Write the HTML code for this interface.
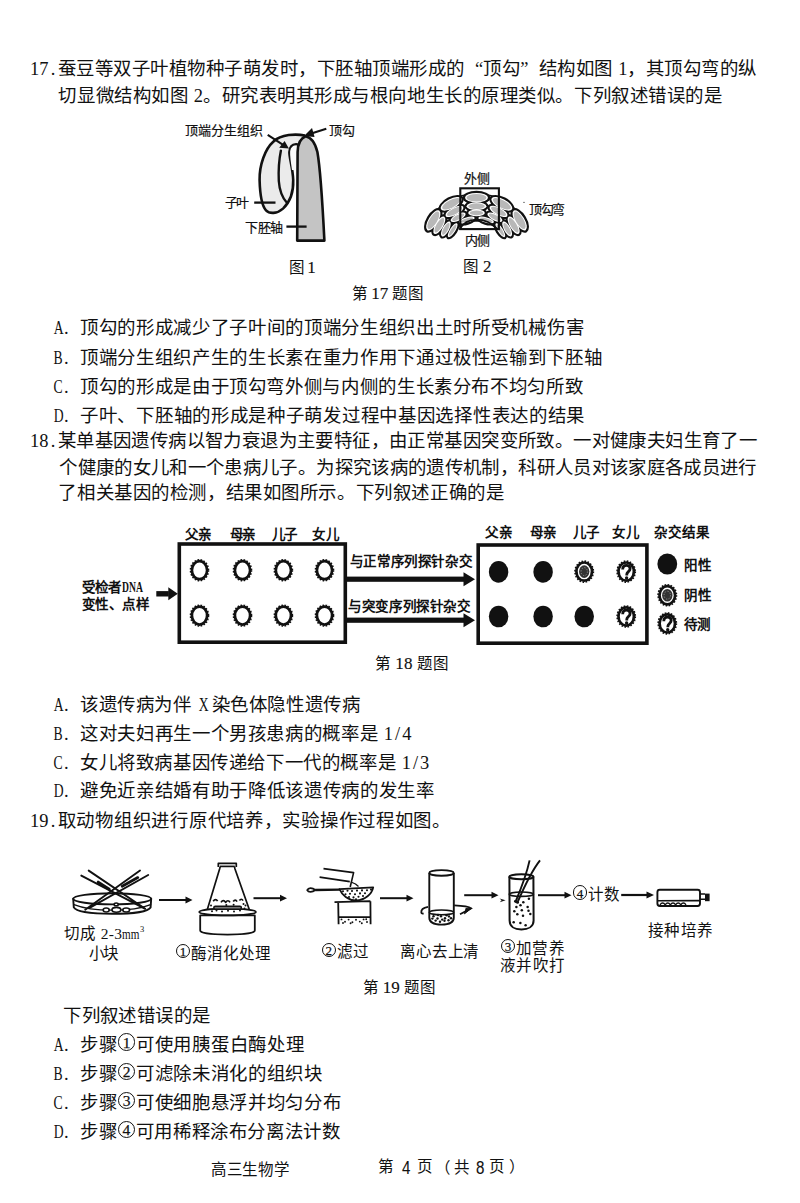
<!DOCTYPE html>
<html lang="zh-CN"><head><meta charset="utf-8"><title>高三生物学 第4页</title>
<style>
html,body{margin:0;padding:0;background:#fff;}
body{width:800px;height:1203px;position:relative;overflow:hidden;font-family:"Liberation Serif",serif;color:#111;}
.t{position:absolute;white-space:nowrap;font-size:18.45px;line-height:18.45px;}
s{text-decoration:none;display:inline-block;width:var(--p);letter-spacing:0}
.t i{font-style:normal;display:inline-block;width:0.5em;text-align:center;letter-spacing:0}
.t i.ts{width:0.3em}
.t i u{text-decoration:none;display:inline-block;transform:scaleX(0.74);}
.t b.ql,.t b.qr{font-weight:normal;display:inline-block;width:1em;letter-spacing:0}
.t b.ql{text-align:right}
.t b.qr{text-align:left}
.lb{position:absolute;white-space:nowrap;font-family:"Liberation Sans",sans-serif;font-weight:bold;line-height:1;}
.cap{position:absolute;white-space:nowrap;line-height:1;}
.cd{display:inline-block;box-sizing:border-box;width:0.94em;height:0.94em;margin:0 0.03em;border:1.7px solid #111;border-radius:50%;font-weight:normal;vertical-align:-0.13em;text-align:center;letter-spacing:0;position:relative;top:-0.141em}
.cd span{position:absolute;left:0;right:0;top:50%;font-size:0.84em;line-height:1;margin-top:-0.47em;font-family:"Liberation Serif",serif;-webkit-text-stroke:0.25px #111}
.dna{display:inline-block;width:20.8px;font-size:1.15em;line-height:1;transform:scaleX(0.62);transform-origin:0 0;letter-spacing:0;font-family:"Liberation Serif",serif;}
.dg{font-size:1.1em;-webkit-text-stroke:0.15px #111}
.mm{display:inline-block;width:17.6px;transform:scaleX(0.72);transform-origin:0 0;letter-spacing:0}
.hw{display:inline-block;width:0.5em;text-align:center;letter-spacing:0}
.lr{font-weight:normal;-webkit-text-stroke:0.2px #111;}
.sn{font-family:"Liberation Sans",sans-serif;-webkit-text-stroke:0.1px #111;transform:scaleX(0.84);transform-origin:0 0;}
sup{font-size:0.55em;vertical-align:0;position:relative;top:-0.75em;}
svg{position:absolute;left:0;top:0;}
</style></head><body>
<div class="t" style="left:30.12px;top:59.50px;--p:18.505px"><i>1</i><i>7</i><i>.</i><s>蚕</s><s>豆</s><s>等</s><s>双</s><s>子</s><s>叶</s><s>植</s><s>物</s><s>种</s><s>子</s><s>萌</s><s>发</s><s>时</s><s>，</s><s>下</s><s>胚</s><s>轴</s><s>顶</s><s>端</s><s>形</s><s>成</s><s>的</s><b class="ql">“</b><s>顶</s><s>勾</s><b class="qr">”</b><s>结</s><s>构</s><s>如</s><s>图</s><i class="ts"></i><i>1</i><s>，</s><s>其</s><s>顶</s><s>勾</s><s>弯</s><s>的</s><s>纵</s></div>
<div class="t" style="left:58.44px;top:87.26px;--p:18.561px"><s>切</s><s>显</s><s>微</s><s>结</s><s>构</s><s>如</s><s>图</s><i class="ts"></i><i>2</i><s>。</s><s>研</s><s>究</s><s>表</s><s>明</s><s>其</s><s>形</s><s>成</s><s>与</s><s>根</s><s>向</s><s>地</s><s>生</s><s>长</s><s>的</s><s>原</s><s>理</s><s>类</s><s>似</s><s>。</s><s>下</s><s>列</s><s>叙</s><s>述</s><s>错</s><s>误</s><s>的</s><s>是</s></div>
<div class="t" style="left:52.38px;top:319.48px;--p:18.678px"><i><u>A</u></i><i>.</i><i>&nbsp;</i><s>顶</s><s>勾</s><s>的</s><s>形</s><s>成</s><s>减</s><s>少</s><s>了</s><s>子</s><s>叶</s><s>间</s><s>的</s><s>顶</s><s>端</s><s>分</s><s>生</s><s>组</s><s>织</s><s>出</s><s>土</s><s>时</s><s>所</s><s>受</s><s>机</s><s>械</s><s>伤</s><s>害</s></div>
<div class="t" style="left:52.38px;top:349.26px;--p:18.669px"><i><u>B</u></i><i>.</i><i>&nbsp;</i><s>顶</s><s>端</s><s>分</s><s>生</s><s>组</s><s>织</s><s>产</s><s>生</s><s>的</s><s>生</s><s>长</s><s>素</s><s>在</s><s>重</s><s>力</s><s>作</s><s>用</s><s>下</s><s>通</s><s>过</s><s>极</s><s>性</s><s>运</s><s>输</s><s>到</s><s>下</s><s>胚</s><s>轴</s></div>
<div class="t" style="left:52.38px;top:377.74px;--p:18.648px"><i><u>C</u></i><i>.</i><i>&nbsp;</i><s>顶</s><s>勾</s><s>的</s><s>形</s><s>成</s><s>是</s><s>由</s><s>于</s><s>顶</s><s>勾</s><s>弯</s><s>外</s><s>侧</s><s>与</s><s>内</s><s>侧</s><s>的</s><s>生</s><s>长</s><s>素</s><s>分</s><s>布</s><s>不</s><s>均</s><s>匀</s><s>所</s><s>致</s></div>
<div class="t" style="left:52.38px;top:407.00px;--p:18.709px"><i><u>D</u></i><i>.</i><i>&nbsp;</i><s>子</s><s>叶</s><s>、</s><s>下</s><s>胚</s><s>轴</s><s>的</s><s>形</s><s>成</s><s>是</s><s>种</s><s>子</s><s>萌</s><s>发</s><s>过</s><s>程</s><s>中</s><s>基</s><s>因</s><s>选</s><s>择</s><s>性</s><s>表</s><s>达</s><s>的</s><s>结</s><s>果</s></div>
<div class="t" style="left:30.12px;top:431.98px;--p:18.411px"><i>1</i><i>8</i><i>.</i><s>某</s><s>单</s><s>基</s><s>因</s><s>遗</s><s>传</s><s>病</s><s>以</s><s>智</s><s>力</s><s>衰</s><s>退</s><s>为</s><s>主</s><s>要</s><s>特</s><s>征</s><s>，</s><s>由</s><s>正</s><s>常</s><s>基</s><s>因</s><s>突</s><s>变</s><s>所</s><s>致</s><s>。</s><s>一</s><s>对</s><s>健</s><s>康</s><s>夫</s><s>妇</s><s>生</s><s>育</s><s>了</s><s>一</s></div>
<div class="t" style="left:59.18px;top:458.50px;--p:18.364px"><s>个</s><s>健</s><s>康</s><s>的</s><s>女</s><s>儿</s><s>和</s><s>一</s><s>个</s><s>患</s><s>病</s><s>儿</s><s>子</s><s>。</s><s>为</s><s>探</s><s>究</s><s>该</s><s>病</s><s>的</s><s>遗</s><s>传</s><s>机</s><s>制</s><s>，</s><s>科</s><s>研</s><s>人</s><s>员</s><s>对</s><s>该</s><s>家</s><s>庭</s><s>各</s><s>成</s><s>员</s><s>进</s><s>行</s></div>
<div class="t" style="left:58.38px;top:484.01px;--p:18.580px"><s>了</s><s>相</s><s>关</s><s>基</s><s>因</s><s>的</s><s>检</s><s>测</s><s>，</s><s>结</s><s>果</s><s>如</s><s>图</s><s>所</s><s>示</s><s>。</s><s>下</s><s>列</s><s>叙</s><s>述</s><s>正</s><s>确</s><s>的</s><s>是</s></div>
<div class="t" style="left:52.38px;top:696.00px;--p:18.568px"><i><u>A</u></i><i>.</i><i>&nbsp;</i><s>该</s><s>遗</s><s>传</s><s>病</s><s>为</s><s>伴</s><i class="ts"></i><i><u>X</u></i><i class="ts"></i><s>染</s><s>色</s><s>体</s><s>隐</s><s>性</s><s>遗</s><s>传</s><s>病</s></div>
<div class="t" style="left:52.38px;top:725.26px;--p:18.655px"><i><u>B</u></i><i>.</i><i>&nbsp;</i><s>这</s><s>对</s><s>夫</s><s>妇</s><s>再</s><s>生</s><s>一</s><s>个</s><s>男</s><s>孩</s><s>患</s><s>病</s><s>的</s><s>概</s><s>率</s><s>是</s><i class="ts"></i><i>1</i><i>/</i><i>4</i></div>
<div class="t" style="left:52.38px;top:753.52px;--p:18.600px"><i><u>C</u></i><i>.</i><i>&nbsp;</i><s>女</s><s>儿</s><s>将</s><s>致</s><s>病</s><s>基</s><s>因</s><s>传</s><s>递</s><s>给</s><s>下</s><s>一</s><s>代</s><s>的</s><s>概</s><s>率</s><s>是</s><i class="ts"></i><i>1</i><i>/</i><i>3</i></div>
<div class="t" style="left:52.38px;top:781.98px;--p:18.660px"><i><u>D</u></i><i>.</i><i>&nbsp;</i><s>避</s><s>免</s><s>近</s><s>亲</s><s>结</s><s>婚</s><s>有</s><s>助</s><s>于</s><s>降</s><s>低</s><s>该</s><s>遗</s><s>传</s><s>病</s><s>的</s><s>发</s><s>生</s><s>率</s></div>
<div class="t" style="left:30.12px;top:811.51px;--p:18.724px"><i>1</i><i>9</i><i>.</i><s>取</s><s>动</s><s>物</s><s>组</s><s>织</s><s>进</s><s>行</s><s>原</s><s>代</s><s>培</s><s>养</s><s>，</s><s>实</s><s>验</s><s>操</s><s>作</s><s>过</s><s>程</s><s>如</s><s>图</s><s>。</s></div>
<div class="t" style="left:63.20px;top:1006.51px;--p:18.420px"><s>下</s><s>列</s><s>叙</s><s>述</s><s>错</s><s>误</s><s>的</s><s>是</s></div>
<div class="t" style="left:52.38px;top:1035.96px;--p:18.740px"><i><u>A</u></i><i>.</i><i>&nbsp;</i><s>步</s><s>骤</s><b class="cd"><span>1</span></b><s>可</s><s>使</s><s>用</s><s>胰</s><s>蛋</s><s>白</s><s>酶</s><s>处</s><s>理</s></div>
<div class="t" style="left:52.38px;top:1065.22px;--p:18.713px"><i><u>B</u></i><i>.</i><i>&nbsp;</i><s>步</s><s>骤</s><b class="cd"><span>2</span></b><s>可</s><s>滤</s><s>除</s><s>未</s><s>消</s><s>化</s><s>的</s><s>组</s><s>织</s><s>块</s></div>
<div class="t" style="left:52.38px;top:1094.22px;--p:18.691px"><i><u>C</u></i><i>.</i><i>&nbsp;</i><s>步</s><s>骤</s><b class="cd"><span>3</span></b><s>可</s><s>使</s><s>细</s><s>胞</s><s>悬</s><s>浮</s><s>并</s><s>均</s><s>匀</s><s>分</s><s>布</s></div>
<div class="t" style="left:52.38px;top:1123.48px;--p:18.629px"><i><u>D</u></i><i>.</i><i>&nbsp;</i><s>步</s><s>骤</s><b class="cd"><span>4</span></b><s>可</s><s>用</s><s>稀</s><s>释</s><s>涂</s><s>布</s><s>分</s><s>离</s><s>法</s><s>计</s><s>数</s></div>
<div class="cap" style="left:289.00px;top:258.96px;font-size:15.5px;letter-spacing:-0.800px;--p:15.200px"><s>图</s> <span class=dg>1</span></div>
<div class="cap" style="left:463.00px;top:257.96px;font-size:15.5px;letter-spacing:0.000px;--p:16.000px"><s>图</s> <span class=dg>2</span></div>
<div class="cap" style="left:351.50px;top:284.96px;font-size:15.5px;letter-spacing:-0.067px;--p:15.933px"><s>第</s> <span class=dg>17</span> <s>题</s><s>图</s></div>
<div class="cap" style="left:375.00px;top:654.71px;font-size:15.5px;letter-spacing:0.200px;--p:16.200px"><s>第</s> <span class=dg>18</span> <s>题</s><s>图</s></div>
<div class="cap" style="left:362.75px;top:978.96px;font-size:15.5px;letter-spacing:0.067px;--p:16.067px"><s>第</s> <span class=dg>19</span> <s>题</s><s>图</s></div>
<div class="cap" style="left:210.56px;top:1161.56px;font-size:15.5px;letter-spacing:-0.040px;--p:15.960px"><s>高</s><s>三</s><s>生</s><s>物</s><s>学</s></div>
<div class="cap" style="left:378.00px;top:1159.26px;font-size:15.5px;letter-spacing:0.000px;--p:16.000px"><s>第</s></div>
<div class="cap sn" style="left:402.24px;top:1158.82px;font-size:18px;letter-spacing:0.000px;--p:18.000px">4</div>
<div class="cap" style="left:417.08px;top:1159.26px;font-size:15.5px;letter-spacing:0.000px;--p:16.000px"><s>页</s></div>
<div class="cap" style="left:435.10px;top:1160.06px;font-size:15.5px;letter-spacing:3.200px;--p:19.200px"><s>（</s><s>共</s></div>
<div class="cap sn" style="left:475.58px;top:1158.82px;font-size:18px;letter-spacing:0.000px;--p:18.000px">8</div>
<div class="cap" style="left:489.08px;top:1159.26px;font-size:15.5px;letter-spacing:3.520px;--p:19.520px"><s>页</s><s>）</s></div>
<div class="lb lr" style="left:185.30px;top:123.64px;font-size:13px;letter-spacing:0.000px;--p:13.000px"><s>顶</s><s>端</s><s>分</s><s>生</s><s>组</s><s>织</s></div>
<div class="lb lr" style="left:328.55px;top:123.64px;font-size:13px;letter-spacing:0.000px;--p:13.000px"><s>顶</s><s>勾</s></div>
<div class="lb lr" style="left:225.30px;top:196.14px;font-size:13px;letter-spacing:-2.400px;--p:10.600px"><s>子</s><s>叶</s></div>
<div class="lb lr" style="left:245.00px;top:221.14px;font-size:13px;letter-spacing:-0.400px;--p:12.600px"><s>下</s><s>胚</s><s>轴</s></div>
<div class="lb lr" style="left:464.00px;top:171.64px;font-size:13px;letter-spacing:0.000px;--p:13.000px"><s>外</s><s>侧</s></div>
<div class="lb lr" style="left:465.00px;top:233.64px;font-size:13px;letter-spacing:-0.800px;--p:12.200px"><s>内</s><s>侧</s></div>
<div class="lb lr" style="left:528.80px;top:202.64px;font-size:13px;letter-spacing:-1.200px;--p:11.800px"><s>顶</s><s>勾</s><s>弯</s></div>
<div class="lb" style="left:184.80px;top:528.06px;font-size:13.5px;letter-spacing:-0.800px;--p:13.200px"><s>父</s><s>亲</s></div>
<div class="lb" style="left:229.80px;top:528.06px;font-size:13.5px;letter-spacing:-1.600px;--p:12.400px"><s>母</s><s>亲</s></div>
<div class="lb" style="left:271.80px;top:528.06px;font-size:13.5px;letter-spacing:-1.600px;--p:12.400px"><s>儿</s><s>子</s></div>
<div class="lb" style="left:311.50px;top:528.06px;font-size:13.5px;letter-spacing:0.480px;--p:14.480px"><s>女</s><s>儿</s></div>
<div class="lb" style="left:484.88px;top:525.68px;font-size:13.5px;letter-spacing:0.320px;--p:14.320px"><s>父</s><s>亲</s></div>
<div class="lb" style="left:529.80px;top:525.68px;font-size:13.5px;letter-spacing:-0.800px;--p:13.200px"><s>母</s><s>亲</s></div>
<div class="lb" style="left:572.52px;top:525.68px;font-size:13.5px;letter-spacing:-0.800px;--p:13.200px"><s>儿</s><s>子</s></div>
<div class="lb" style="left:612.00px;top:525.68px;font-size:13.5px;letter-spacing:0.000px;--p:14.000px"><s>女</s><s>儿</s></div>
<div class="lb" style="left:654.25px;top:525.68px;font-size:13.5px;letter-spacing:-0.160px;--p:13.840px"><s>杂</s><s>交</s><s>结</s><s>果</s></div>
<div class="lb" style="left:81.50px;top:578.68px;font-size:13.5px;letter-spacing:-0.640px;--p:13.360px"><s>受</s><s>检</s><s>者</s><span class=dna>DNA</span></div>
<div class="lb" style="left:81.50px;top:598.19px;font-size:13.5px;letter-spacing:-0.400px;--p:13.600px"><s>变</s><s>性</s><s>、</s><s>点</s><s>样</s></div>
<div class="lb" style="left:349.80px;top:554.94px;font-size:13.5px;letter-spacing:-0.400px;--p:13.600px"><s>与</s><s>正</s><s>常</s><s>序</s><s>列</s><s>探</s><s>针</s><s>杂</s><s>交</s></div>
<div class="lb" style="left:348.30px;top:599.94px;font-size:13.5px;letter-spacing:-0.400px;--p:13.600px"><s>与</s><s>突</s><s>变</s><s>序</s><s>列</s><s>探</s><s>针</s><s>杂</s><s>交</s></div>
<div class="lb" style="left:683.50px;top:558.66px;font-size:13.5px;letter-spacing:0.000px;--p:14.000px"><s>阳</s><s>性</s></div>
<div class="lb" style="left:683.50px;top:589.19px;font-size:13.5px;letter-spacing:0.000px;--p:14.000px"><s>阴</s><s>性</s></div>
<div class="lb" style="left:684.30px;top:618.44px;font-size:13.5px;letter-spacing:-0.800px;--p:13.200px"><s>待</s><s>测</s></div>
<div class="cap" style="left:64.24px;top:925.66px;font-size:15.5px;letter-spacing:0.251px;--p:16.251px"><s>切</s><s>成</s> 2-3<span class=mm>mm</span><sup>3</sup></div>
<div class="cap" style="left:89.00px;top:946.26px;font-size:15.5px;letter-spacing:-1.600px;--p:14.400px"><s>小</s><s>块</s></div>
<div class="cap" style="left:175.30px;top:945.56px;font-size:15.5px;letter-spacing:0.000px;--p:16.000px"><b class="cd"><span>1</span></b><s>酶</s><s>消</s><s>化</s><s>处</s><s>理</s></div>
<div class="cap" style="left:321.05px;top:944.31px;font-size:15.5px;letter-spacing:0.000px;--p:16.000px"><b class="cd"><span>2</span></b><s>滤</s><s>过</s></div>
<div class="cap" style="left:400.25px;top:943.51px;font-size:15.5px;letter-spacing:-0.200px;--p:15.800px"><s>离</s><s>心</s><s>去</s><s>上</s><s>清</s></div>
<div class="cap" style="left:500.30px;top:940.56px;font-size:15.5px;letter-spacing:0.533px;--p:16.533px"><b class="cd"><span>3</span></b><s>加</s><s>营</s><s>养</s></div>
<div class="cap" style="left:499.60px;top:957.96px;font-size:15.5px;letter-spacing:0.550px;--p:16.550px"><s>液</s><s>并</s><s>吹</s><s>打</s></div>
<div class="cap" style="left:572.30px;top:887.16px;font-size:15.5px;letter-spacing:0.600px;--p:16.600px"><b class="cd"><span>4</span></b><s>计</s><s>数</s></div>
<div class="cap" style="left:648.00px;top:922.56px;font-size:15.5px;letter-spacing:0.267px;--p:16.267px"><s>接</s><s>种</s><s>培</s><s>养</s></div>
<svg width="800" height="1203" viewBox="0 0 800 1203">
<path d="M305,135.6 C296,133.6 281,134.2 273.5,141.5 C265,149 259.3,165 259.6,180 C260,195 262,206 266,210.3 C269.5,214 277,214 283,208.6 C290,202 293.6,192 293.2,180 C292.8,168 289.2,158 289.4,152 C289.7,147 292.5,144.4 296,144.2 L298.5,144.8" fill="#ebebeb" stroke="#111" stroke-width="2.6" stroke-linejoin="round"/>
<path d="M297.8,146 C294,144.6 291,146.5 290.2,151 C289.8,156 291,163 292,170 L297,170 Z" fill="#fafafa"/>
<path d="M297.2,240.6 L297.6,152 C297.8,144 301,138 305.6,136.2 C311,137.2 315.2,143 317.4,152 C320.2,168 322.6,205 324.4,240.6 Z" fill="#c4c4c4" stroke="#111" stroke-width="2.6" stroke-linejoin="round"/>
<path d="M280.9,150.6 C279.2,159 278.3,170 278.8,181 C279.5,191 282.6,198 286.9,202.8" fill="none" stroke="#111" stroke-width="2.4" stroke-linecap="round"/>
<line x1="254.2" y1="202.6" x2="275.5" y2="202.6" stroke="#111" stroke-width="2.3"/>
<line x1="286.4" y1="226.6" x2="306.6" y2="226.6" stroke="#111" stroke-width="2.3"/>
<line x1="267.7" y1="134.8" x2="283.5" y2="145.2" stroke="#111" stroke-width="2"/>
<path d="M288.9,148.5 L279.2,147.8 L284.6,140.9 Z" fill="#111"/>
<line x1="326.3" y1="128.7" x2="310.5" y2="133.8" stroke="#111" stroke-width="2"/>
<path d="M304.0,135.9 L312.0,128.0 L314.6,137.0 Z" fill="#111"/>
<g><path d="M431.90,216.55 L434.31,213.22 L437.05,210.08 L440.08,207.17 L443.40,204.50 L446.96,202.09 L450.75,199.97 L454.74,198.14 L458.89,196.63 L463.17,195.44 L467.56,194.59 L472.01,194.07 L476.50,193.90 L480.99,194.07 L485.44,194.59 L489.83,195.44 L494.11,196.63 L498.26,198.14 L502.25,199.97 L506.04,202.09 L509.60,204.50 L512.92,207.17 L515.95,210.08 L518.69,213.22 L521.10,216.55 L497.72,230.00 L496.57,228.65 L495.27,227.37 L493.82,226.19 L492.25,225.10 L490.55,224.13 L488.75,223.27 L486.85,222.52 L484.88,221.91 L482.84,221.43 L480.75,221.08 L478.64,220.87 L476.50,220.80 L474.36,220.87 L472.25,221.08 L470.16,221.43 L468.12,221.91 L466.15,222.52 L464.25,223.27 L462.45,224.13 L460.75,225.10 L459.18,226.19 L457.73,227.37 L456.43,228.65 L455.28,230.00 Z" fill="#fff" stroke="#111" stroke-width="1.6"/><ellipse cx="433.29" cy="220.36" rx="13.70" ry="7.00" transform="rotate(-59.2 433.29 220.36)" fill="#111"/><ellipse cx="451.16" cy="203.82" rx="13.70" ry="7.00" transform="rotate(-27.7 451.16 203.82)" fill="#111"/><ellipse cx="476.50" cy="197.70" rx="13.70" ry="7.00" transform="rotate(0.0 476.50 197.70)" fill="#111"/><ellipse cx="501.84" cy="203.82" rx="13.70" ry="7.00" transform="rotate(27.7 501.84 203.82)" fill="#111"/><ellipse cx="519.71" cy="220.36" rx="13.70" ry="7.00" transform="rotate(59.2 519.71 220.36)" fill="#111"/><ellipse cx="439.34" cy="225.25" rx="12.10" ry="6.10" transform="rotate(-59.9 439.34 225.25)" fill="#111"/><ellipse cx="454.47" cy="211.37" rx="12.10" ry="6.10" transform="rotate(-27.1 454.47 211.37)" fill="#111"/><ellipse cx="476.50" cy="206.20" rx="12.10" ry="6.10" transform="rotate(0.0 476.50 206.20)" fill="#111"/><ellipse cx="498.53" cy="211.37" rx="12.10" ry="6.10" transform="rotate(27.1 498.53 211.37)" fill="#111"/><ellipse cx="513.66" cy="225.25" rx="12.10" ry="6.10" transform="rotate(59.9 513.66 225.25)" fill="#111"/><ellipse cx="445.85" cy="228.92" rx="10.50" ry="5.50" transform="rotate(-61.7 445.85 228.92)" fill="#111"/><ellipse cx="458.12" cy="217.27" rx="10.50" ry="5.50" transform="rotate(-27.6 458.12 217.27)" fill="#111"/><ellipse cx="476.50" cy="212.90" rx="10.50" ry="5.50" transform="rotate(0.0 476.50 212.90)" fill="#111"/><ellipse cx="494.88" cy="217.27" rx="10.50" ry="5.50" transform="rotate(27.6 494.88 217.27)" fill="#111"/><ellipse cx="507.15" cy="228.92" rx="10.50" ry="5.50" transform="rotate(61.7 507.15 228.92)" fill="#111"/><ellipse cx="452.68" cy="230.17" rx="10.30" ry="4.90" transform="rotate(-57.9 452.68 230.17)" fill="#111"/><ellipse cx="466.86" cy="220.01" rx="10.30" ry="4.90" transform="rotate(-16.9 466.86 220.01)" fill="#111"/><ellipse cx="486.14" cy="220.01" rx="10.30" ry="4.90" transform="rotate(16.9 486.14 220.01)" fill="#111"/><ellipse cx="500.32" cy="230.17" rx="10.30" ry="4.90" transform="rotate(57.9 500.32 230.17)" fill="#111"/><ellipse cx="433.29" cy="220.36" rx="11.50" ry="4.80" transform="rotate(-59.2 433.29 220.36)" fill="#fff"/><ellipse cx="451.16" cy="203.82" rx="11.50" ry="4.80" transform="rotate(-27.7 451.16 203.82)" fill="#fff"/><ellipse cx="476.50" cy="197.70" rx="11.50" ry="4.80" transform="rotate(0.0 476.50 197.70)" fill="#fff"/><ellipse cx="501.84" cy="203.82" rx="11.50" ry="4.80" transform="rotate(27.7 501.84 203.82)" fill="#fff"/><ellipse cx="519.71" cy="220.36" rx="11.50" ry="4.80" transform="rotate(59.2 519.71 220.36)" fill="#fff"/><ellipse cx="439.34" cy="225.25" rx="9.90" ry="3.90" transform="rotate(-59.9 439.34 225.25)" fill="#fff"/><ellipse cx="454.47" cy="211.37" rx="9.90" ry="3.90" transform="rotate(-27.1 454.47 211.37)" fill="#fff"/><ellipse cx="476.50" cy="206.20" rx="9.90" ry="3.90" transform="rotate(0.0 476.50 206.20)" fill="#fff"/><ellipse cx="498.53" cy="211.37" rx="9.90" ry="3.90" transform="rotate(27.1 498.53 211.37)" fill="#fff"/><ellipse cx="513.66" cy="225.25" rx="9.90" ry="3.90" transform="rotate(59.9 513.66 225.25)" fill="#fff"/><ellipse cx="445.85" cy="228.92" rx="8.30" ry="3.30" transform="rotate(-61.7 445.85 228.92)" fill="#fff"/><ellipse cx="458.12" cy="217.27" rx="8.30" ry="3.30" transform="rotate(-27.6 458.12 217.27)" fill="#fff"/><ellipse cx="476.50" cy="212.90" rx="8.30" ry="3.30" transform="rotate(0.0 476.50 212.90)" fill="#fff"/><ellipse cx="494.88" cy="217.27" rx="8.30" ry="3.30" transform="rotate(27.6 494.88 217.27)" fill="#fff"/><ellipse cx="507.15" cy="228.92" rx="8.30" ry="3.30" transform="rotate(61.7 507.15 228.92)" fill="#fff"/><ellipse cx="452.68" cy="230.17" rx="8.10" ry="2.70" transform="rotate(-57.9 452.68 230.17)" fill="#fff"/><ellipse cx="466.86" cy="220.01" rx="8.10" ry="2.70" transform="rotate(-16.9 466.86 220.01)" fill="#fff"/><ellipse cx="486.14" cy="220.01" rx="8.10" ry="2.70" transform="rotate(16.9 486.14 220.01)" fill="#fff"/><ellipse cx="500.32" cy="230.17" rx="8.10" ry="2.70" transform="rotate(57.9 500.32 230.17)" fill="#fff"/><ellipse cx="433.29" cy="220.36" rx="9.90" ry="3.80" transform="rotate(-59.2 433.29 220.36)" fill="#b8b8b8"/><ellipse cx="451.16" cy="203.82" rx="9.90" ry="3.80" transform="rotate(-27.7 451.16 203.82)" fill="#b8b8b8"/><ellipse cx="476.50" cy="197.70" rx="9.90" ry="3.80" transform="rotate(0.0 476.50 197.70)" fill="#b8b8b8"/><ellipse cx="501.84" cy="203.82" rx="9.90" ry="3.80" transform="rotate(27.7 501.84 203.82)" fill="#b8b8b8"/><ellipse cx="519.71" cy="220.36" rx="9.90" ry="3.80" transform="rotate(59.2 519.71 220.36)" fill="#b8b8b8"/><ellipse cx="439.34" cy="225.25" rx="8.30" ry="2.90" transform="rotate(-59.9 439.34 225.25)" fill="#b8b8b8"/><ellipse cx="454.47" cy="211.37" rx="8.30" ry="2.90" transform="rotate(-27.1 454.47 211.37)" fill="#b8b8b8"/><ellipse cx="476.50" cy="206.20" rx="8.30" ry="2.90" transform="rotate(0.0 476.50 206.20)" fill="#b8b8b8"/><ellipse cx="498.53" cy="211.37" rx="8.30" ry="2.90" transform="rotate(27.1 498.53 211.37)" fill="#b8b8b8"/><ellipse cx="513.66" cy="225.25" rx="8.30" ry="2.90" transform="rotate(59.9 513.66 225.25)" fill="#b8b8b8"/><ellipse cx="445.85" cy="228.92" rx="6.70" ry="2.30" transform="rotate(-61.7 445.85 228.92)" fill="#b8b8b8"/><ellipse cx="458.12" cy="217.27" rx="6.70" ry="2.30" transform="rotate(-27.6 458.12 217.27)" fill="#b8b8b8"/><ellipse cx="476.50" cy="212.90" rx="6.70" ry="2.30" transform="rotate(0.0 476.50 212.90)" fill="#b8b8b8"/><ellipse cx="494.88" cy="217.27" rx="6.70" ry="2.30" transform="rotate(27.6 494.88 217.27)" fill="#b8b8b8"/><ellipse cx="507.15" cy="228.92" rx="6.70" ry="2.30" transform="rotate(61.7 507.15 228.92)" fill="#b8b8b8"/><ellipse cx="452.68" cy="230.17" rx="6.50" ry="1.70" transform="rotate(-57.9 452.68 230.17)" fill="#b8b8b8"/><ellipse cx="466.86" cy="220.01" rx="6.50" ry="1.70" transform="rotate(-16.9 466.86 220.01)" fill="#b8b8b8"/><ellipse cx="486.14" cy="220.01" rx="6.50" ry="1.70" transform="rotate(16.9 486.14 220.01)" fill="#b8b8b8"/><ellipse cx="500.32" cy="230.17" rx="6.50" ry="1.70" transform="rotate(57.9 500.32 230.17)" fill="#b8b8b8"/></g>
<rect x="460.3" y="188.3" width="38.6" height="40.8" fill="none" stroke="#111" stroke-width="2.1"/>
<path d="M459.5,229.6 C463,223 469,219.6 476.5,219.6 C484,219.6 492,223 497.5,229" fill="none" stroke="#111" stroke-width="1.8"/>
<circle cx="524" cy="202.3" r="0.6" fill="#111"/>
<rect x="179.3" y="544.0" width="166" height="98.2" fill="none" stroke="#111" stroke-width="3.6"/>
<rect x="478.2" y="545.0" width="168.7" height="98.2" fill="none" stroke="#111" stroke-width="3.6"/>
<ellipse cx="199.50" cy="570.20" rx="7.60" ry="9.00" fill="none" stroke="#111" stroke-width="2.7"/><ellipse cx="199.50" cy="570.20" rx="9.00" ry="10.40" fill="none" stroke="#111" stroke-width="1.6" stroke-dasharray="1.6 1.5"/>
<ellipse cx="199.50" cy="615.60" rx="7.60" ry="9.00" fill="none" stroke="#111" stroke-width="2.7"/><ellipse cx="199.50" cy="615.60" rx="9.00" ry="10.40" fill="none" stroke="#111" stroke-width="1.6" stroke-dasharray="1.6 1.5"/>
<ellipse cx="242.50" cy="570.20" rx="7.60" ry="9.00" fill="none" stroke="#111" stroke-width="2.7"/><ellipse cx="242.50" cy="570.20" rx="9.00" ry="10.40" fill="none" stroke="#111" stroke-width="1.6" stroke-dasharray="1.6 1.5"/>
<ellipse cx="242.50" cy="615.60" rx="7.60" ry="9.00" fill="none" stroke="#111" stroke-width="2.7"/><ellipse cx="242.50" cy="615.60" rx="9.00" ry="10.40" fill="none" stroke="#111" stroke-width="1.6" stroke-dasharray="1.6 1.5"/>
<ellipse cx="283.40" cy="570.20" rx="7.60" ry="9.00" fill="none" stroke="#111" stroke-width="2.7"/><ellipse cx="283.40" cy="570.20" rx="9.00" ry="10.40" fill="none" stroke="#111" stroke-width="1.6" stroke-dasharray="1.6 1.5"/>
<ellipse cx="283.40" cy="615.60" rx="7.60" ry="9.00" fill="none" stroke="#111" stroke-width="2.7"/><ellipse cx="283.40" cy="615.60" rx="9.00" ry="10.40" fill="none" stroke="#111" stroke-width="1.6" stroke-dasharray="1.6 1.5"/>
<ellipse cx="324.50" cy="570.20" rx="7.60" ry="9.00" fill="none" stroke="#111" stroke-width="2.7"/><ellipse cx="324.50" cy="570.20" rx="9.00" ry="10.40" fill="none" stroke="#111" stroke-width="1.6" stroke-dasharray="1.6 1.5"/>
<ellipse cx="324.50" cy="615.60" rx="7.60" ry="9.00" fill="none" stroke="#111" stroke-width="2.7"/><ellipse cx="324.50" cy="615.60" rx="9.00" ry="10.40" fill="none" stroke="#111" stroke-width="1.6" stroke-dasharray="1.6 1.5"/>
<ellipse cx="498.60" cy="571.90" rx="9.75" ry="10.80" fill="#111"/>
<ellipse cx="543.10" cy="571.90" rx="9.75" ry="10.80" fill="#111"/>
<ellipse cx="584.20" cy="571.60" rx="7.80" ry="9.10" fill="none" stroke="#111" stroke-width="2.7"/><ellipse cx="584.20" cy="571.60" rx="9.20" ry="10.50" fill="none" stroke="#111" stroke-width="1.6" stroke-dasharray="1.6 1.5"/><ellipse cx="584.20" cy="571.60" rx="5.2" ry="6.3" fill="#333"/><ellipse cx="584.20" cy="571.60" rx="3.2" ry="4.0" fill="none" stroke="#9a9a9a" stroke-width="0.9" stroke-dasharray="1.2 1.6"/>
<ellipse cx="626.20" cy="571.60" rx="7.70" ry="9.10" fill="none" stroke="#111" stroke-width="2.7"/><ellipse cx="626.20" cy="571.60" rx="9.10" ry="10.50" fill="none" stroke="#111" stroke-width="1.6" stroke-dasharray="1.6 1.5"/><path d="M622.70,569.40 c0,-2.7 1.7,-4.1 3.7,-4.1 c2.1,0 3.7,1.4 3.7,3.5 c0,2.6 -3.1,3 -3.3,5.4 l0,1.3" fill="none" stroke="#111" stroke-width="2.8"/><circle cx="626.60" cy="578.00" r="1.7" fill="#111"/>
<ellipse cx="498.60" cy="616.50" rx="9.75" ry="10.80" fill="#111"/>
<ellipse cx="543.10" cy="616.50" rx="9.75" ry="10.80" fill="#111"/>
<ellipse cx="584.20" cy="616.50" rx="9.75" ry="10.80" fill="#111"/>
<ellipse cx="626.20" cy="616.50" rx="7.70" ry="9.10" fill="none" stroke="#111" stroke-width="2.7"/><ellipse cx="626.20" cy="616.50" rx="9.10" ry="10.50" fill="none" stroke="#111" stroke-width="1.6" stroke-dasharray="1.6 1.5"/><path d="M622.70,614.30 c0,-2.7 1.7,-4.1 3.7,-4.1 c2.1,0 3.7,1.4 3.7,3.5 c0,2.6 -3.1,3 -3.3,5.4 l0,1.3" fill="none" stroke="#111" stroke-width="2.8"/><circle cx="626.60" cy="622.90" r="1.7" fill="#111"/>
<ellipse cx="667.30" cy="564.00" rx="9.90" ry="10.60" fill="#111"/>
<ellipse cx="667.30" cy="595.20" rx="7.80" ry="9.10" fill="none" stroke="#111" stroke-width="2.7"/><ellipse cx="667.30" cy="595.20" rx="9.20" ry="10.50" fill="none" stroke="#111" stroke-width="1.6" stroke-dasharray="1.6 1.5"/><ellipse cx="667.30" cy="595.20" rx="5.2" ry="6.3" fill="#333"/><ellipse cx="667.30" cy="595.20" rx="3.2" ry="4.0" fill="none" stroke="#9a9a9a" stroke-width="0.9" stroke-dasharray="1.2 1.6"/>
<ellipse cx="667.30" cy="623.40" rx="7.70" ry="9.10" fill="none" stroke="#111" stroke-width="2.7"/><ellipse cx="667.30" cy="623.40" rx="9.10" ry="10.50" fill="none" stroke="#111" stroke-width="1.6" stroke-dasharray="1.6 1.5"/><path d="M663.80,621.20 c0,-2.7 1.7,-4.1 3.7,-4.1 c2.1,0 3.7,1.4 3.7,3.5 c0,2.6 -3.1,3 -3.3,5.4 l0,1.3" fill="none" stroke="#111" stroke-width="2.8"/><circle cx="667.70" cy="629.80" r="1.7" fill="#111"/>
<rect x="156.30" y="591.10" width="12.50" height="5.40" fill="#111"/><path d="M177.80,593.80 L168.30,587.30 L168.30,600.30 Z" fill="#111"/>
<rect x="347.00" y="576.60" width="117.00" height="5.20" fill="#111"/><path d="M475.00,579.20 L463.50,572.20 L463.50,586.20 Z" fill="#111"/>
<rect x="347.00" y="617.60" width="117.00" height="5.20" fill="#111"/><path d="M475.00,620.20 L463.50,613.20 L463.50,627.20 Z" fill="#111"/>
<line x1="159.00" y1="900.00" x2="186.50" y2="900.00" stroke="#111" stroke-width="2.00"/><path d="M192.50,900.00 L185.50,896.60 L185.50,903.40 Z" fill="#111"/>
<line x1="253.50" y1="898.20" x2="281.00" y2="898.20" stroke="#111" stroke-width="2.00"/><path d="M287.00,898.20 L280.00,894.80 L280.00,901.60 Z" fill="#111"/>
<line x1="380.00" y1="898.20" x2="407.50" y2="898.20" stroke="#111" stroke-width="2.00"/><path d="M413.50,898.20 L406.50,894.80 L406.50,901.60 Z" fill="#111"/>
<line x1="464.20" y1="895.20" x2="492.50" y2="895.20" stroke="#111" stroke-width="2.00"/><path d="M498.50,895.20 L491.50,891.80 L491.50,898.60 Z" fill="#111"/>
<line x1="538.00" y1="895.20" x2="565.50" y2="895.20" stroke="#111" stroke-width="2.00"/><path d="M571.50,895.20 L564.50,891.80 L564.50,898.60 Z" fill="#111"/>
<line x1="621.20" y1="895.00" x2="647.50" y2="895.00" stroke="#111" stroke-width="2.20"/><path d="M654.00,895.00 L646.50,891.40 L646.50,898.60 Z" fill="#111"/>
<g fill="none" stroke="#111" stroke-width="1.9" stroke-linecap="round"><ellipse cx="112.2" cy="898.8" rx="39" ry="5.6"/><path d="M73.2,898.8 L73.8,907.4 C76,911.6 92,913.8 112,913.8 C132,913.8 148,911.6 150.6,907.4 L151.2,898.8"/><path d="M74,904.6 C84,908.6 98,910.2 112,910.2 C126,910.2 141,908.6 150.6,904.6" stroke-width="1.3"/><path d="M81.3,875.6 L145.2,908.8 M88.7,870.6 L145.2,908.8"/><path d="M98.2,882.2 L109.2,889.2" stroke-width="3"/><path d="M140.0,870.6 L85.2,909.8 M148.2,875.0 L90.0,907.6"/><path d="M122.2,886.2 L137.8,877.6" stroke-width="2.8"/></g>
<g fill="#fff" stroke="#111" stroke-width="1.6"><ellipse cx="106.2" cy="910" rx="3" ry="2"/><ellipse cx="116.4" cy="909.8" rx="4.4" ry="2.4"/><ellipse cx="126.2" cy="910" rx="3.4" ry="2"/><ellipse cx="116.2" cy="904.4" rx="2" ry="1.4"/></g>
<g fill="none" stroke="#111" stroke-width="1.7" stroke-linejoin="round"><path d="M218.3,867 L218.3,863.4 L236.3,863.4 L236.3,867"/><path d="M219.8,866.4 L234.8,866.4"/><path d="M220.2,866.6 L219.6,869 L207.4,909.3 M234.5,866.6 L235,869 L249.2,909.3"/><ellipse cx="227.6" cy="912" rx="28.4" ry="3.4" fill="#fff"/><path d="M200.2,915.4 L254.8,915.4 L254.8,930.6 C254.8,933.6 240,934.6 227.5,934.6 C215,934.6 200.2,933.6 200.2,930.6 Z" stroke-width="1.8"/><path d="M213.2,901.2 c1.5,-2.2 3.2,-2.2 4.4,0 M221,902.4 c1.5,-2.4 3.2,-2.4 4.6,0 c1.5,-2.2 3.2,-2.2 4.4,0 M233.2,901.6 c1.4,-2 2.8,-2 3.8,0 M239.4,900.6 c1.3,-1.8 2.6,-1.8 3.6,0" stroke-width="1.7"/><rect x="213.8" y="906.2" width="27.6" height="3" rx="1.5" fill="#777" stroke-width="1.5"/></g>
<circle cx="212.0" cy="911.2" r="1.0" fill="#111"/><circle cx="216.5" cy="910.6" r="1.0" fill="#111"/><circle cx="222.0" cy="911.4" r="1.0" fill="#111"/><circle cx="228.0" cy="910.8" r="1.0" fill="#111"/><circle cx="234.0" cy="911.4" r="1.0" fill="#111"/><circle cx="240.0" cy="910.6" r="1.0" fill="#111"/><circle cx="244.5" cy="908.4" r="1.0" fill="#111"/><circle cx="243.5" cy="904.0" r="1.0" fill="#111"/><circle cx="211.0" cy="905.4" r="1.0" fill="#111"/><circle cx="226.3" cy="905.0" r="1.0" fill="#111"/><circle cx="233.6" cy="904.8" r="1.0" fill="#111"/><circle cx="245.5" cy="905.6" r="1.0" fill="#111"/>
<g fill="none" stroke="#111" stroke-width="1.6" stroke-linejoin="round"><path d="M323.5,868.6 L353.6,872.6 L350.2,887 M319.6,877.1 L349.8,881.6"/><path d="M351,882 L355.5,884 L358.5,886.5" stroke-width="1.3"/><path d="M307.2,890.1 C308.4,887.6 312,887.4 315.4,890 C312,892.6 308.4,892.4 307.2,890.1 Z" stroke-width="1.8"/><path d="M315.3,890 L340,889.6" stroke-width="2.4"/><path d="M339.5,889.2 L373.2,887.4 C372,894 365,900 356.3,900.4 C348,900.6 342,895 339.5,889.2 Z" fill="#fff" stroke-width="1.8"/><path d="M334.5,902.1 L370.4,901.2 M338.2,902.6 L338.6,924.2 M370.4,901.2 L370.6,924.2 M338.6,917.2 L370.6,917.0" stroke-width="1.8"/></g>
<circle cx="343.0" cy="891.2" r="1.05" fill="#111"/><circle cx="347.5" cy="890.8" r="1.05" fill="#111"/><circle cx="352.0" cy="891.0" r="1.05" fill="#111"/><circle cx="357.0" cy="890.6" r="1.05" fill="#111"/><circle cx="362.0" cy="890.4" r="1.05" fill="#111"/><circle cx="367.0" cy="890.2" r="1.05" fill="#111"/><circle cx="371.0" cy="889.6" r="1.05" fill="#111"/><circle cx="345.5" cy="894.2" r="1.05" fill="#111"/><circle cx="350.0" cy="893.8" r="1.05" fill="#111"/><circle cx="355.0" cy="894.2" r="1.05" fill="#111"/><circle cx="360.0" cy="893.4" r="1.05" fill="#111"/><circle cx="365.0" cy="893.2" r="1.05" fill="#111"/><circle cx="349.0" cy="897.0" r="1.05" fill="#111"/><circle cx="353.5" cy="897.4" r="1.05" fill="#111"/><circle cx="358.5" cy="896.8" r="1.05" fill="#111"/><circle cx="363.0" cy="896.0" r="1.05" fill="#111"/><circle cx="356.0" cy="899.2" r="1.05" fill="#111"/><circle cx="351.8" cy="900.2" r="1.05" fill="#111"/><circle cx="341.5" cy="919.4" r="0.95" fill="#111"/><circle cx="345.0" cy="921.8" r="0.95" fill="#111"/><circle cx="348.6" cy="919.6" r="0.95" fill="#111"/><circle cx="352.4" cy="922.2" r="0.95" fill="#111"/><circle cx="356.0" cy="919.8" r="0.95" fill="#111"/><circle cx="359.8" cy="921.6" r="0.95" fill="#111"/><circle cx="363.6" cy="919.4" r="0.95" fill="#111"/><circle cx="367.0" cy="922.0" r="0.95" fill="#111"/><circle cx="343.0" cy="923.0" r="0.95" fill="#111"/><circle cx="350.6" cy="923.2" r="0.95" fill="#111"/><circle cx="361.8" cy="923.2" r="0.95" fill="#111"/><circle cx="366.2" cy="919.2" r="0.95" fill="#111"/>
<g fill="none" stroke="#111" stroke-width="1.9"><ellipse cx="441.5" cy="872.9" rx="12.2" ry="2.8"/><path d="M429.3,872.9 L429.3,917.5 C429.3,922 434,924.6 441.5,924.6 C449,924.6 453.8,922 453.8,917.5 L453.8,872.9"/><ellipse cx="441.5" cy="912.4" rx="12.2" ry="2.4" stroke-width="1.5"/><path d="M428,906.8 C424,907.5 421,909.5 421.3,912.3 C421.5,913.6 422.5,913.7 423.6,913.4" stroke-width="1.8"/><path d="M454.2,905.3 C462,905.6 469,906.6 471.2,908.4 L460,914.2" stroke-width="1.8"/><path d="M471.6,908.2 L464.5,913.8 L466.2,908" fill="#111" stroke-width="1"/></g>
<circle cx="433.5" cy="916.2" r="1.2" fill="#111"/><circle cx="437.5" cy="918.5" r="1.2" fill="#111"/><circle cx="441.0" cy="916.2" r="1.2" fill="#111"/><circle cx="445.0" cy="918.3" r="1.2" fill="#111"/><circle cx="449.0" cy="916.4" r="1.2" fill="#111"/><circle cx="435.6" cy="920.6" r="1.2" fill="#111"/><circle cx="440.0" cy="921.8" r="1.2" fill="#111"/><circle cx="444.5" cy="920.8" r="1.2" fill="#111"/><circle cx="448.5" cy="920.2" r="1.2" fill="#111"/><circle cx="438.0" cy="915.0" r="1.2" fill="#111"/><circle cx="446.5" cy="915.2" r="1.2" fill="#111"/><circle cx="442.2" cy="919.6" r="1.2" fill="#111"/><circle cx="432.4" cy="918.6" r="1.2" fill="#111"/><circle cx="451.0" cy="918.2" r="1.2" fill="#111"/>
<g fill="none" stroke="#111" stroke-width="2"><ellipse cx="521.4" cy="876.8" rx="12.1" ry="2.5"/><path d="M509.4,876.8 L509.6,920.4 C509.6,926.4 514.5,929.4 521.4,929.4 C528.2,929.4 533.6,926.4 533.6,920.4 L533.4,876.8"/><ellipse cx="521.4" cy="894.2" rx="12.1" ry="2.2" stroke-width="1.6"/><path d="M529.6,860.4 C527.5,870 523,884 515.6,901.6 M540,860.4 C534,868 525,885 517.5,902.4" stroke-width="1.9"/><path d="M515.2,901.3 L517.8,902.5" stroke-width="2.6" stroke-linecap="round"/></g>
<path d="M499.5,898.6 L505.6,900.3 L499.8,902.2 L501.6,900.3 Z" fill="#111"/>
<circle cx="528.9" cy="898.7" r="1.25" fill="#111"/><circle cx="523.3" cy="902.3" r="1.25" fill="#111"/><circle cx="516.4" cy="906.9" r="1.25" fill="#111"/><circle cx="520.5" cy="905.3" r="1.25" fill="#111"/><circle cx="527.6" cy="907.0" r="1.25" fill="#111"/><circle cx="514.3" cy="911.2" r="1.25" fill="#111"/><circle cx="521.8" cy="910.3" r="1.25" fill="#111"/><circle cx="528.5" cy="910.8" r="1.25" fill="#111"/><circle cx="517.3" cy="914.2" r="1.25" fill="#111"/><circle cx="523.0" cy="915.8" r="1.25" fill="#111"/><circle cx="530.3" cy="914.0" r="1.25" fill="#111"/><circle cx="513.7" cy="922.3" r="1.25" fill="#111"/><circle cx="520.4" cy="923.0" r="1.25" fill="#111"/><circle cx="525.6" cy="925.2" r="1.25" fill="#111"/>
<g fill="none" stroke="#111" stroke-width="1.9"><rect x="657.4" y="889.8" width="42.6" height="16.2" rx="2.4"/><path d="M657.6,900.8 L700,900.6" stroke-width="1.6"/><path d="M660,904.8 c1.6,-2.4 3.6,-2.4 5.2,0 c1.6,-2.4 3.6,-2.4 5.2,0 c1.6,-2.4 3.6,-2.4 5.2,0 c1.6,-2.4 3.6,-2.4 5.2,0 c1.6,-2.4 3.6,-2.4 5.2,0" stroke-width="1.4"/><path d="M700,894 L705,894 M700,899.3 L705,899.3" stroke-width="1.5"/></g>
<rect x="705" y="893.6" width="4.6" height="7.6" fill="#111"/>
</svg>
</body></html>
